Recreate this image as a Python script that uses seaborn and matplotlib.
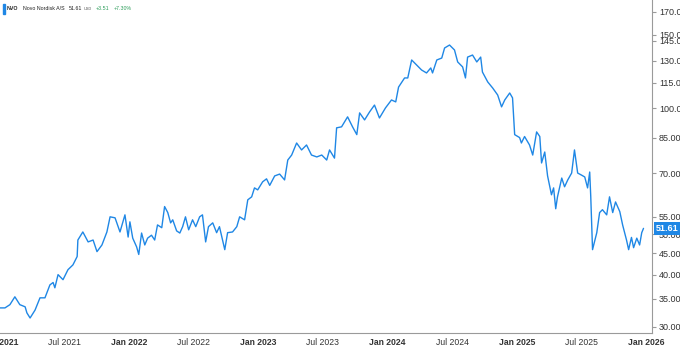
import matplotlib
matplotlib.use("Agg")
import matplotlib.pyplot as plt
import matplotlib.dates as mdates
import matplotlib.transforms as mtrans
from matplotlib.ticker import FixedLocator, NullLocator
import seaborn as sns
import pandas as pd

# ---- data ----
dates = [
    "2021-01-01", "2021-01-15", "2021-01-29", "2021-02-12", "2021-02-26", "2021-03-13", "2021-03-18",
    "2021-03-27", "2021-04-10", "2021-04-24", "2021-05-08", "2021-05-22", "2021-05-31", "2021-06-05",
    "2021-06-14", "2021-06-28", "2021-07-12", "2021-07-26", "2021-08-07", "2021-08-09", "2021-08-23",
    "2021-09-07", "2021-09-21", "2021-10-02", "2021-10-16", "2021-10-30", "2021-11-08", "2021-11-22",
    "2021-12-06", "2021-12-20", "2021-12-29", "2022-01-03", "2022-01-11", "2022-01-22", "2022-01-28",
    "2022-02-05", "2022-02-14", "2022-02-22", "2022-03-05", "2022-03-14", "2022-03-22", "2022-04-03",
    "2022-04-11", "2022-04-20", "2022-04-28", "2022-05-04", "2022-05-15", "2022-05-24", "2022-06-01",
    "2022-06-09", "2022-06-18", "2022-06-29", "2022-07-08", "2022-07-19", "2022-07-27", "2022-08-05",
    "2022-08-13", "2022-08-25", "2022-09-05", "2022-09-13", "2022-09-28", "2022-10-06", "2022-10-20",
    "2022-11-01", "2022-11-09", "2022-11-23", "2022-12-02", "2022-12-13", "2022-12-21", "2022-12-30",
    "2023-01-13", "2023-01-24", "2023-02-02", "2023-02-16", "2023-03-02", "2023-03-16", "2023-03-25",
    "2023-04-05", "2023-04-19", "2023-05-03", "2023-05-17", "2023-05-31", "2023-06-15", "2023-06-29",
    "2023-07-13", "2023-07-21", "2023-08-04", "2023-08-10", "2023-08-24", "2023-09-10", "2023-09-24",
    "2023-10-06", "2023-10-14", "2023-10-28", "2023-11-11", "2023-11-25", "2023-12-09", "2023-12-26",
    "2024-01-12", "2024-01-24", "2024-02-01", "2024-02-18", "2024-02-27", "2024-03-09", "2024-03-23",
    "2024-04-06", "2024-04-20", "2024-05-02", "2024-05-07", "2024-05-19", "2024-06-02", "2024-06-10",
    "2024-06-24", "2024-07-08", "2024-07-17", "2024-07-31", "2024-08-08", "2024-08-14", "2024-08-28",
    "2024-09-09", "2024-09-20", "2024-09-25", "2024-10-10", "2024-10-24", "2024-11-07", "2024-11-18",
    "2024-11-27", "2024-12-11", "2024-12-19", "2024-12-25", "2025-01-08", "2025-01-13", "2025-01-22",
    "2025-02-05", "2025-02-14", "2025-02-25", "2025-03-06", "2025-03-11", "2025-03-20", "2025-03-28",
    "2025-04-08", "2025-04-14", "2025-04-20", "2025-04-25", "2025-05-07", "2025-05-15", "2025-05-24",
    "2025-06-04", "2025-06-12", "2025-06-21", "2025-07-02", "2025-07-11", "2025-07-19", "2025-07-25",
    "2025-07-28", "2025-08-02", "2025-08-14", "2025-08-22", "2025-08-30", "2025-09-11", "2025-09-19",
    "2025-09-28", "2025-10-06", "2025-10-18", "2025-10-26", "2025-11-06", "2025-11-12", "2025-11-20",
    "2025-11-26", "2025-12-05", "2025-12-13", "2025-12-19", "2025-12-24",
]
prices = [
    33.3, 33.3, 33.9, 35.4, 33.9, 33.5, 32.4,
    31.5, 32.9, 35.2, 35.2, 37.8, 38.3, 37.2,
    40.0, 38.9, 41.1, 42.2, 44.2, 48.4, 50.6,
    47.9, 48.4, 45.4, 47.1, 50.6, 55.0, 54.7,
    50.6, 55.6, 49.2, 53.5, 48.9, 46.6, 44.7,
    50.3, 47.1, 48.9, 49.7, 48.4, 52.6, 51.8,
    58.2, 56.3, 53.2, 54.1, 50.9, 50.3, 52.1,
    55.0, 51.2, 54.1, 52.1, 55.0, 55.6, 47.9,
    52.1, 53.2, 50.4, 52.1, 45.9, 50.4, 50.6,
    52.1, 55.0, 54.1, 60.4, 61.4, 64.5, 63.8,
    66.7, 67.8, 65.4, 68.9, 69.6, 67.4, 75.2,
    77.3, 82.6, 79.5, 81.7, 77.3, 76.5, 77.3,
    75.2, 79.5, 76.0, 89.8, 90.3, 95.4, 90.3,
    86.5, 97.5, 93.8, 98.0, 101.8, 94.8, 100.2,
    104.7, 103.6, 112.4, 118.2, 118.2, 130.5, 127.0,
    123.5, 121.5, 124.9, 121.5, 130.5, 131.9, 139.4,
    141.7, 137.9, 129.1, 125.6, 118.2, 132.6, 134.1,
    129.1, 132.6, 122.1, 115.6, 111.8, 107.6, 100.8,
    104.7, 108.8, 105.9, 86.5, 85.1, 82.6, 85.6,
    81.7, 77.3, 87.8, 85.6, 74.0, 78.6, 68.9,
    62.1, 64.5, 57.5, 61.4, 68.1, 64.9, 67.4,
    70.0, 79.5, 70.0, 69.2, 68.5, 64.5, 70.4,
    61.4, 45.9, 50.4, 56.3, 57.2, 55.6, 61.4,
    56.3, 59.7, 56.6, 52.6, 48.4, 45.9, 49.1,
    46.4, 48.9, 47.1, 50.4, 51.61,
]
y_ticks = [30, 35, 40, 45, 50, 55, 70, 85, 100, 115, 130, 145, 150, 170]
x_tick_dates = ["2021-01-01", "2021-07-01", "2022-01-01", "2022-07-01", "2023-01-01", "2023-07-01",
                "2024-01-01", "2024-07-01", "2025-01-01", "2025-07-01", "2026-01-01"]
x_tick_labels = ["Jan 2021", "Jul 2021", "Jan 2022", "Jul 2022", "Jan 2023", "Jul 2023",
                 "Jan 2024", "Jul 2024", "Jan 2025", "Jul 2025", "Jan 2026"]
ticker_sym = "NVO"
company = "Novo Nordisk A/S"
last_price = "51.61"
currency = "USD"
change_abs = "+3.51"
change_pct = "+7.30%"

# ---- figure ----
sns.set_style("white")
plt.rcParams["font.family"] = ["Liberation Sans", "DejaVu Sans"]

LINE = "#1f87e5"
AXC = "#9a9a9a"
TXT = "#333333"
W, H = 680, 346

fig = plt.figure(figsize=(6.8, 3.46), dpi=100)
ax = fig.add_axes([0.0, 1 - 333 / H, 652 / W, 333 / H])

df = pd.DataFrame({"date": pd.to_datetime(dates), "price": prices})
sns.lineplot(data=df, x="date", y="price", ax=ax, color=LINE, linewidth=1.0)

ax.set_yscale("log")
ax.set_ylim(29.0, 181.6)
ax.set_xlim(pd.Timestamp("2021-01-01"), pd.Timestamp("2026-01-17"))

ax.yaxis.set_major_locator(FixedLocator(y_ticks))
ax.yaxis.set_minor_locator(NullLocator())
ax.set_yticklabels([f"{v:.2f}" for v in y_ticks])
ax.yaxis.tick_right()
ax.yaxis.set_label_position("right")

xt = [mdates.date2num(pd.Timestamp(d)) for d in x_tick_dates]
ax.set_xticks(xt)
ax.set_xticklabels(x_tick_labels)
for lab in ax.get_xticklabels():
    if lab.get_text().startswith("Jan"):
        lab.set_fontweight("bold")

ax.tick_params(axis="y", which="major", direction="out", length=3, width=0.8, color=AXC,
               labelsize=6.5, labelcolor=TXT, pad=2, right=True, left=False)
ax.tick_params(axis="x", which="major", direction="out", length=3, width=0.8, color=AXC,
               labelsize=6.2, labelcolor=TXT, pad=0.6)

for s in ["top", "left"]:
    ax.spines[s].set_visible(False)
for s in ["bottom", "right"]:
    ax.spines[s].set_color(AXC)
    ax.spines[s].set_linewidth(0.8)

ax.set_xlabel("")
ax.set_ylabel("")
ax.grid(False)

# last price badge on the right axis
trans = mtrans.blended_transform_factory(ax.transAxes, ax.transData)
ax.text(1.006, float(last_price), last_price, transform=trans, ha="left", va="center",
        fontsize=6.5, fontweight="bold", color="white", clip_on=False,
        bbox=dict(boxstyle="square,pad=0.25", facecolor=LINE, edgecolor="none"))

# header (laid out left to right from measured text widths)
fig.patches.append(plt.Rectangle((3 / W, 1 - 14 / H), 1.6 / W, 10 / H,
                                 transform=fig.transFigure, color=LINE))
renderer = fig.canvas.get_renderer()
hy = 1 - 9 / H
fs = 3.8
items = [
    (ticker_sym, fs, "bold", "#222222", 4.5),
    (company, fs, "normal", "#222222", 4.5),
    (last_price, fs, "normal", "#222222", 1.0),
    (currency, 2.8, "normal", "#555555", 4.0),
    (change_abs, fs, "normal", "#2e9e5b", 4.0),
    (change_pct, fs, "normal", "#2e9e5b", 0.0),
]
xpix = 7.0
for txt, size, weight, col, gap in items:
    t = fig.text(xpix / W, hy, txt, fontsize=size, fontweight=weight, color=col, va="center")
    bb = t.get_window_extent(renderer=renderer)
    xpix += bb.width + gap

fig.savefig("out.png", dpi=100)
